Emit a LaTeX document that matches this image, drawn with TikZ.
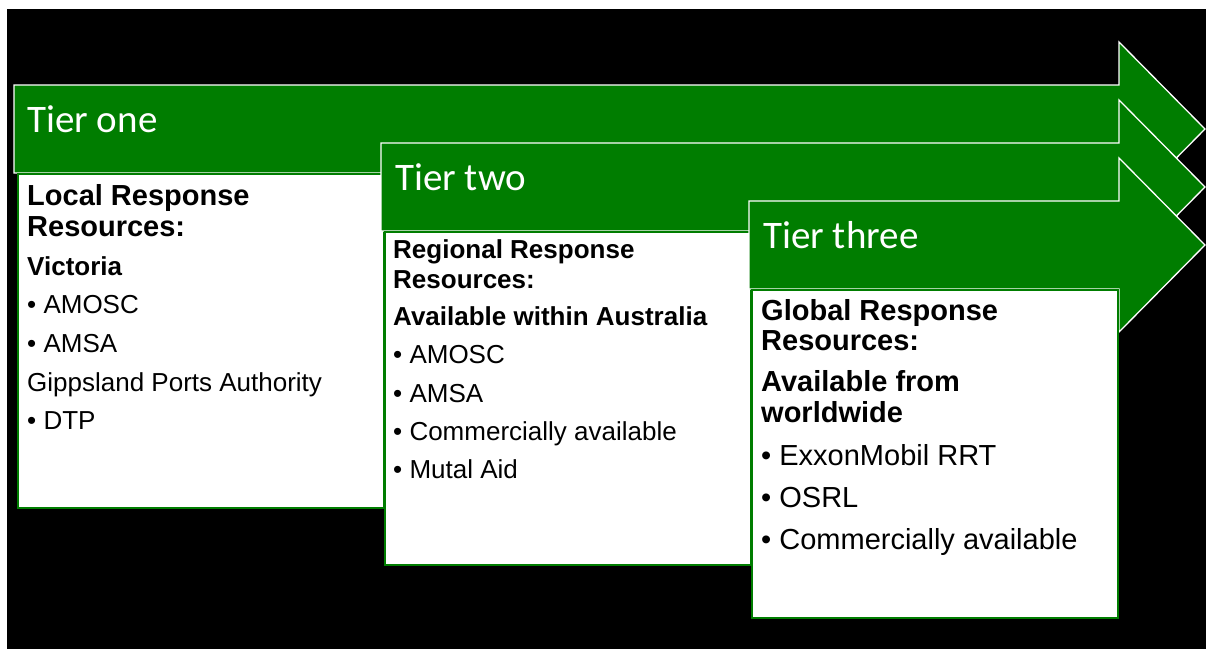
\documentclass[tikz,border=0pt]{standalone}
\usepackage{fontspec}
\setmainfont{Liberation Sans}
\newfontfamily\tierfont{Carlito}
\definecolor{tiergreen}{RGB}{0,125,0}
\begin{document}
\begin{tikzpicture}[x=1pt,y=-1pt,
  tierarrow/.style={fill=tiergreen,draw=white,line width=1.3pt,line join=miter},
  tierbox/.style={fill=white,draw=tiergreen,line width=2pt,anchor=north west,inner sep=0pt},
  tierlabel/.style={anchor=base west,inner sep=0pt,text=white,font=\tierfont\fontsize{39}{44}\selectfont},
  headbig/.style={anchor=base west,inner sep=0pt,font=\bfseries\fontsize{29}{33}\selectfont},
  headsmall/.style={anchor=base west,inner sep=0pt,font=\bfseries\fontsize{26}{30}\selectfont},
  itemsmall/.style={anchor=base west,inner sep=0pt,font=\fontsize{26}{30}\selectfont},
  itembig/.style={anchor=base west,inner sep=0pt,font=\fontsize{29}{33}\selectfont}
]
\useasboundingbox (0,0) rectangle (1206,649);
\fill[white] (0,0) rectangle (1206,649);
\fill[black] (7,9) rectangle (1206,649);

% Tier one arrow and box
\draw[tierarrow] (14,85) -- (1119,85) -- (1119,42) -- (1205,129) -- (1119,216) -- (1119,173) -- (14,173) -- cycle;
\node[tierbox,minimum width=366pt,minimum height=334pt] (box1) at (17,173) {};

% Tier two arrow and box
\draw[tierarrow] (381,143) -- (1119,143) -- (1119,100) -- (1205,187) -- (1119,274) -- (1119,231) -- (381,231) -- cycle;
\node[tierbox,minimum width=366pt,minimum height=333pt] (box2) at (384,231) {};

% Tier three arrow and box
\draw[tierarrow] (749,201) -- (1119,201) -- (1119,158) -- (1205,245) -- (1119,332) -- (1119,289) -- (749,289) -- cycle;
\node[tierbox,minimum width=366pt,minimum height=328pt] (box3) at (751,289) {};

% Tier labels
\node[tierlabel] (t1) at (27,132) {Tier one};
\node[tierlabel] (t2) at (395,190) {Tier two};
\node[tierlabel] (t3) at (763,248) {Tier three};

% Box 1 text
\node[headbig] (a1) at (27,205) {Local Response};
\node[headbig] (a2) at (27,236) {Resources:};
\node[headsmall] (a3) at (27,275) {Victoria};
\node[itemsmall] (a4) at (27,313) {• AMOSC};
\node[itemsmall] (a5) at (27,352) {• AMSA};
\node[itemsmall] (a6) at (27,391) {Gippsland Ports Authority};
\node[itemsmall] (a7) at (27,429) {• DTP};

% Box 2 text
\node[headsmall] (b1) at (393,258) {Regional Response};
\node[headsmall] (b2) at (393,288) {Resources:};
\node[headsmall] (b3) at (393,325) {Available within Australia};
\node[itemsmall] (b4) at (393,363) {• AMOSC};
\node[itemsmall] (b5) at (393,402) {• AMSA};
\node[itemsmall] (b6) at (393,440) {• Commercially available};
\node[itemsmall] (b7) at (393,478) {• Mutal Aid};

% Box 3 text
\node[headbig] (c1) at (761,320) {Global Response};
\node[headbig] (c2) at (761,350) {Resources:};
\node[headbig] (c3) at (761,391) {Available from};
\node[headbig] (c4) at (761,422) {worldwide};
\node[itembig] (c5) at (761,465) {• ExxonMobil RRT};
\node[itembig] (c6) at (761,507) {• OSRL};
\node[itembig] (c7) at (761,549) {• Commercially available};
\end{tikzpicture}
\end{document}
